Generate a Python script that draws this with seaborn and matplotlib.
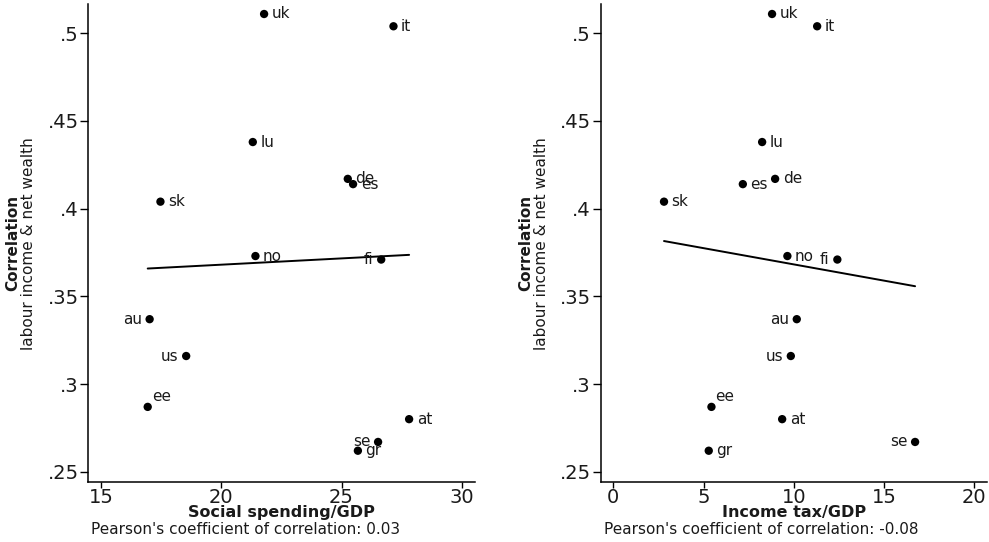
import numpy as np
import pandas as pd
import matplotlib
matplotlib.use("Agg")
import matplotlib.pyplot as plt
import seaborn as sns

# === DATOS ===
countries = ["uk", "it", "lu", "de", "es", "sk", "no", "fi", "au", "us", "ee", "at", "se", "gr"]
social_spending = [21.78, 27.16, 21.31, 25.26, 25.48, 17.47, 21.42, 26.65, 17.02, 18.54, 16.94, 27.81, 26.52, 25.68]
income_tax = [8.80, 11.30, 8.25, 8.97, 7.18, 2.81, 9.65, 12.42, 10.17, 9.84, 5.44, 9.36, 16.73, 5.29]
correlation = [0.511, 0.504, 0.438, 0.417, 0.414, 0.404, 0.373, 0.371, 0.337, 0.316, 0.287, 0.280, 0.267, 0.262]
pearson_labels = ["0.03", "-0.08"]

df = pd.DataFrame({"country": countries, "social": social_spending,
                   "tax": income_tax, "corr": correlation})

# where each label sits relative to its dot
label_pos = {"fi": "L", "au": "L", "us": "L", "se": "L", "ee": "UR"}
offsets = {"R": ((5.5, 0), "left", "center"),
           "L": ((-5.5, 0), "right", "center"),
           "UR": ((3, 7.5), "left", "center")}

# === FIGURA ===
sns.set_theme(style="white")
plt.rcParams["font.family"] = ["DejaVu Sans"]

W, H = 989, 542
fig = plt.figure(figsize=(W / 100, H / 100), dpi=100)

panels = [
    dict(x="social", xlabel="Social spending/GDP", rect=(88.3, 475),
         xlim=(14.47, 30.55), xticks=[15, 20, 25, 30], ylab_x=(13, 29), pearson=pearson_labels[0]),
    dict(x="tax", xlabel="Income tax/GDP", rect=(600.7, 986.7),
         xlim=(-0.7, 20.7), xticks=[0, 5, 10, 15, 20], ylab_x=(526, 541.7), pearson=pearson_labels[1]),
]

top_px, bottom_px = 4, 482.3
for p in panels:
    l, r = p["rect"]
    ax = fig.add_axes([l / W, 1 - bottom_px / H, (r - l) / W, (bottom_px - top_px) / H])
    sns.scatterplot(data=df, x=p["x"], y="corr", ax=ax, color="black", s=36,
                    edgecolor="none", zorder=3)
    sns.regplot(data=df, x=p["x"], y="corr", ax=ax, scatter=False, ci=None,
                truncate=True, line_kws=dict(color="black", lw=1.4))
    for c, xv, yv in zip(df["country"], df[p["x"]], df["corr"]):
        off, ha, va = offsets[label_pos.get(c, "R")]
        ax.annotate(c, (xv, yv), xytext=off, textcoords="offset points",
                    ha=ha, va=va, fontsize=11, color="#1a1a1a")

    ax.set_xlim(*p["xlim"])
    ax.set_ylim(0.244, 0.5167)
    ax.set_xticks(p["xticks"])
    ax.set_yticks([0.25, 0.3, 0.35, 0.4, 0.45, 0.5])
    ax.set_yticklabels([".25", ".3", ".35", ".4", ".45", ".5"])
    ax.tick_params(axis="both", which="major", labelsize=14, width=1,
                   color="black", labelcolor="#1a1a1a", direction="out",
                   bottom=True, left=True)
    ax.tick_params(axis="y", length=6, pad=1)
    ax.tick_params(axis="x", length=4, pad=0)
    sns.despine(ax=ax)
    for s in ["left", "bottom"]:
        ax.spines[s].set_color("black")
        ax.spines[s].set_linewidth(1.1)
    ax.set_xlabel("")
    ax.set_ylabel("")

    cx = (l + r) / 2
    fig.text(cx / W, 1 - 512 / H, p["xlabel"], ha="center", va="center",
             fontsize=11.5, fontweight="bold", color="#1a1a1a")
    fig.text((l + 3) / W, 1 - 529.5 / H, "Pearson's coefficient of correlation: " + p["pearson"],
             ha="left", va="center", fontsize=11, color="#1a1a1a")
    yc = 1 - (top_px + bottom_px) / 2 / H
    fig.text(p["ylab_x"][0] / W, yc, "Correlation", rotation=90, ha="center", va="center",
             fontsize=11, fontweight="bold", color="#1a1a1a")
    fig.text(p["ylab_x"][1] / W, yc, "labour income & net wealth", rotation=90,
             ha="center", va="center", fontsize=11, color="#1a1a1a")

fig.savefig("out.png", dpi=100, facecolor="white")
